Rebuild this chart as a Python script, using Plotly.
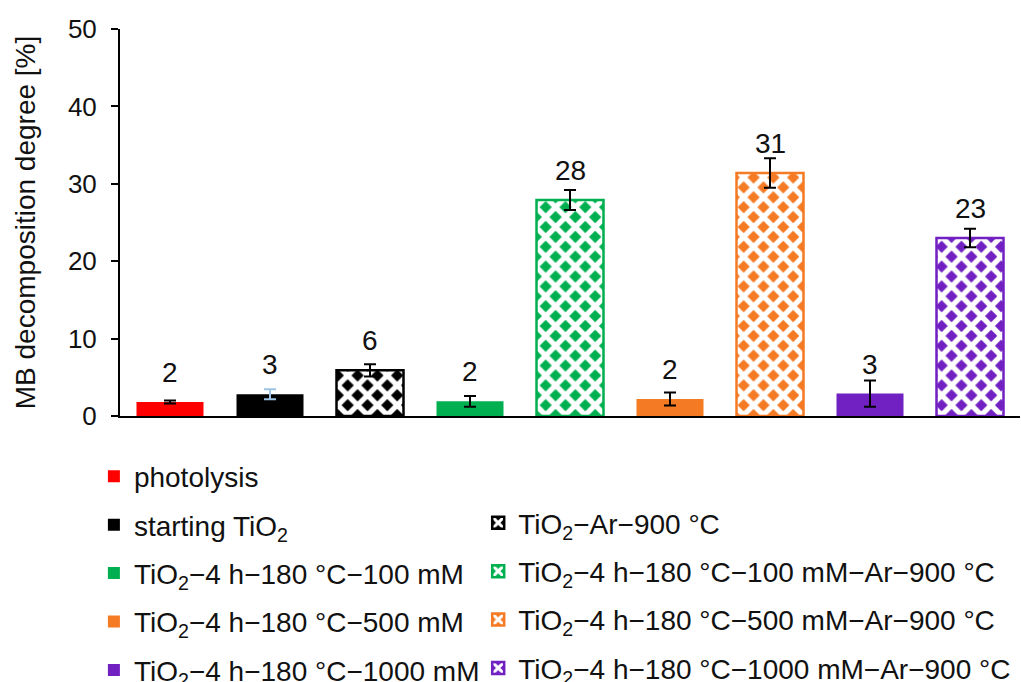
import plotly.graph_objects as go

# Samples, in plotting order
samples = [
    "photolysis",
    "starting TiO<sub>2</sub>",
    "TiO<sub>2</sub>−Ar−900 °C",
    "TiO<sub>2</sub>−4 h−180 °C−100 mM",
    "TiO<sub>2</sub>−4 h−180 °C−100 mM−Ar−900 °C",
    "TiO<sub>2</sub>−4 h−180 °C−500 mM",
    "TiO<sub>2</sub>−4 h−180 °C−500 mM−Ar−900 °C",
    "TiO<sub>2</sub>−4 h−180 °C−1000 mM",
    "TiO<sub>2</sub>−4 h−180 °C−1000 mM−Ar−900 °C",
]
# MB decomposition degree [%] and its standard deviation
degree = [1.8, 2.8, 5.9, 1.9, 27.9, 2.2, 31.4, 2.9, 23.0]
deviation = [0.2, 0.65, 0.8, 0.7, 1.3, 0.85, 1.9, 1.7, 1.2]

colors = ["#FF0000", "#000000", "#000000", "#00B050", "#00B050",
          "#F57A24", "#F57A24", "#7120C2", "#7120C2"]
err_colors = ["#000000", "#9DC3E6", "#000000", "#000000", "#000000",
              "#000000", "#000000", "#000000", "#000000"]
annealed = [False, False, True, False, True, False, True, False, True]

FONT = "Liberation Sans, Arial, sans-serif"

fig = go.Figure()
for i, name in enumerate(samples):
    if annealed[i]:
        marker = dict(
            color=colors[i],
            line=dict(color=colors[i], width=2.5),
            pattern=dict(shape="x", bgcolor=colors[i], fgcolor="#FFFFFF",
                         fgopacity=1, size=14, solidity=0.62, fillmode="replace"),
        )
    else:
        marker = dict(color=colors[i], line=dict(width=0))
    fig.add_trace(go.Bar(
        x=[name], y=[degree[i]], name=name,
        marker=marker,
        error_y=dict(type="data", array=[deviation[i]], visible=True,
                     color=err_colors[i], thickness=2, width=6),
        legend="legend2" if annealed[i] else "legend",
        legendgroup=f"g{i}",
    ))
    fig.add_annotation(
        x=name, y=degree[i], text=f"{degree[i]:.0f}",
        showarrow=False, yanchor="bottom", yshift=12,
        font=dict(family=FONT, size=28, color="#111111"),
    )

# small axis overhang at the origin
fig.add_shape(type="line", xref="paper", yref="paper",
              x0=-0.008, x1=0, y0=0, y1=0, line=dict(color="black", width=2))

legend_common = dict(
    xanchor="left", yanchor="top",
    orientation="v", tracegroupgap=9, bgcolor="rgba(0,0,0,0)",
    font=dict(family=FONT, size=28, color="#111111"),
    itemclick=False, itemdoubleclick=False,
)

fig.update_layout(
    width=1021, height=682,
    margin=dict(l=120, r=1, t=29, b=266, autoexpand=False),
    plot_bgcolor="white", paper_bgcolor="white",
    bargap=0.33,
    font=dict(family=FONT, color="#111111"),
    showlegend=True,
    legend=dict(x=-0.029, y=-0.092, **legend_common),
    legend2=dict(x=0.398, y=-0.212, **legend_common),
    xaxis=dict(showticklabels=False, ticks="", showline=True, linecolor="black",
               linewidth=2, showgrid=False, zeroline=False),
    yaxis=dict(range=[0, 50], dtick=10, ticks="outside", ticklen=7, tickwidth=2,
               tickcolor="black", showline=True, linecolor="black", linewidth=2,
               showgrid=False, zeroline=False, ticklabelstandoff=9,
               tickfont=dict(family=FONT, size=26, color="#111111"),
               title=dict(text="MB decomposition degree [%]", standoff=24,
                          font=dict(family=FONT, size=28, color="#111111"))),
)

fig.write_html("out.html")
